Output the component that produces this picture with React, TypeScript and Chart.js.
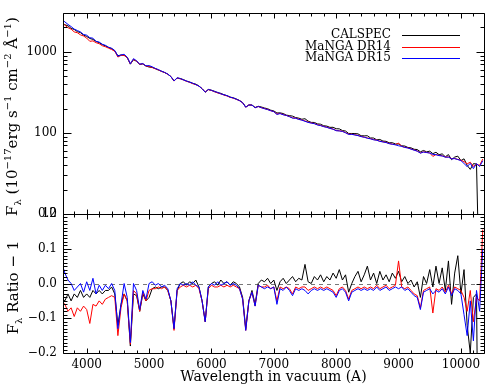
import React, { useEffect, useRef } from "react";
import { Chart, registerables } from "chart.js";

Chart.register(...registerables);

const FONT = "'DejaVu Serif', serif";

// Wavelength grid (Angstrom, vacuum)
const wavelength = [
  3600, 3650, 3700, 3750, 3800, 3850, 3900, 3950, 4000, 4050,
  4100, 4150, 4200, 4250, 4300, 4350, 4400, 4450, 4500, 4550,
  4600, 4650, 4700, 4750, 4800, 4850, 4900, 4950, 5000, 5050,
  5100, 5150, 5200, 5250, 5300, 5350, 5400, 5450, 5500, 5550,
  5600, 5650, 5700, 5750, 5800, 5850, 5900, 5950, 6000, 6050,
  6100, 6150, 6200, 6250, 6300, 6350, 6400, 6450, 6500, 6550,
  6600, 6650, 6700, 6750, 6800, 6850, 6900, 6950, 7000, 7050,
  7100, 7150, 7200, 7250, 7300, 7350, 7400, 7450, 7500, 7550,
  7600, 7650, 7700, 7750, 7800, 7850, 7900, 7950, 8000, 8050,
  8100, 8150, 8200, 8250, 8300, 8350, 8400, 8450, 8500, 8550,
  8600, 8650, 8700, 8750, 8800, 8850, 8900, 8950, 9000, 9050,
  9100, 9150, 9200, 9250, 9300, 9350, 9400, 9450, 9500, 9550,
  9600, 9650, 9700, 9750, 9800, 9850, 9900, 9950, 10000, 10050,
  10100, 10150, 10200, 10250, 10300, 10350,
];

// Continuum flux (10^-17 erg s^-1 cm^-2 A^-1)
const continuumFlux = [
  2400, 2276, 2160, 2052, 1949, 1853, 1763, 1679, 1599, 1525,
  1454, 1389, 1327, 1267, 1211, 1158, 1108, 1061, 1016, 974,
  934, 896, 860, 825, 793, 762, 732, 704, 677, 652,
  628, 605, 583, 561, 541, 522, 504, 486, 469, 453,
  438, 424, 409, 396, 383, 370, 358, 347, 336, 325,
  315, 305, 296, 287, 278, 270, 262, 254, 247, 240,
  233, 226, 219, 213, 207, 202, 196, 191, 185, 180,
  176, 171, 166, 162, 158, 154, 150, 146, 142, 139,
  135, 132, 128, 125, 122, 119, 116, 114, 111, 108,
  106, 103, 101, 98.5, 96.3, 94.1, 91.9, 89.8, 87.9, 85.9,
  84.0, 82.1, 80.3, 78.6, 76.9, 75.2, 73.6, 72.0, 70.5, 69.0,
  67.6, 66.2, 64.8, 63.5, 62.1, 60.9, 59.6, 58.4, 57.3, 56.1,
  55.0, 53.9, 52.8, 51.8, 50.8, 49.8, 48.9, 47.9, 47.0, 46.1,
  45.2, 44.4, 43.5, 42.7, 41.9, 41.2,
];

// Ratio - 1 (bottom panel)
const calspecRatio = [
  -0.04, -0.05, -0.03, -0.05, -0.03, -0.04, -0.02, -0.04, -0.03, -0.04,
  -0.02, -0.03, -0.02, -0.03, -0.02, -0.02, -0.01, -0.03, -0.12, -0.06,
  -0.03, -0.05, -0.18, -0.03, -0.035, -0.08, -0.03, -0.05, -0.04, -0.015,
  -0.01, -0.015, -0.01, -0.01, -0.02, -0.05, -0.13, -0.02, 0.0, 0.005,
  -0.005, 0.005, 0.0, 0.01, -0.01, -0.05, -0.11, -0.01, 0.0, 0.005,
  -0.005, 0.01, 0.0, 0.005, -0.005, 0.005, 0.0, -0.01, -0.04, -0.13,
  -0.05, -0.02, -0.06, 0.0, 0.01, 0.005, 0.015, 0.0, 0.01, -0.02,
  0.005, 0.015, 0.0, 0.01, 0.02, 0.005, 0.015, 0.01, 0.055, 0.005,
  0.0, 0.02, 0.01, 0.025, 0.005, 0.02, 0.01, 0.03, 0.015, 0.04,
  0.01, 0.025, -0.025, 0.0, 0.02, 0.035, 0.005, 0.025, 0.05, 0.01,
  0.03, 0.0, 0.035, 0.01, 0.025, 0.005, 0.03, 0.015, 0.035, 0.005,
  0.02, 0.0, 0.01, -0.01, 0.005, -0.04, 0.02, 0.0, 0.04, -0.01,
  0.05, 0.0, 0.045, -0.02, 0.065, -0.06, 0.03, 0.08, -0.03, 0.04,
  -0.12, -0.2, -0.04, -0.03, -0.98, null,
];

const dr14Ratio = [
  -0.05, -0.06, -0.08, -0.07, -0.095, -0.07, -0.08, -0.065, -0.075, -0.115,
  -0.06, -0.065, -0.05, -0.06, -0.045, -0.04, -0.035, -0.04, -0.15, -0.07,
  -0.03, -0.05, -0.175, -0.02, -0.03, -0.08, -0.025, -0.05, -0.02, -0.015,
  -0.015, -0.01, -0.015, -0.01, -0.02, -0.05, -0.135, -0.02, -0.01, -0.005,
  -0.01, -0.005, -0.01, -0.005, -0.015, -0.05, -0.11, -0.015, -0.005, -0.01,
  -0.01, -0.005, -0.01, -0.005, -0.01, -0.005, -0.01, -0.015, -0.045, -0.135,
  -0.05, -0.025, -0.065, -0.005, -0.01, -0.01, -0.005, -0.015, -0.01, -0.05,
  -0.01, -0.015, -0.01, -0.015, -0.03, -0.01, -0.015, -0.01, -0.01, -0.02,
  -0.015, -0.01, -0.015, -0.01, -0.015, -0.01, -0.015, -0.02, -0.035, -0.015,
  -0.01, -0.02, -0.045, -0.02, -0.015, -0.01, -0.015, -0.01, -0.015, -0.01,
  -0.015, -0.005, -0.015, -0.01, -0.005, -0.015, -0.01, -0.005, 0.065, -0.01,
  -0.015, -0.01, -0.02, -0.03, -0.035, -0.07, -0.02, -0.015, -0.01, -0.085,
  -0.015, -0.02, -0.01, -0.025, -0.005, -0.03, -0.01, -0.015, -0.02, -0.04,
  -0.08, -0.02, -0.11, -0.04, -0.05, 0.155,
];

const dr15Ratio = [
  0.06, 0.03, 0.01, 0.0, -0.02, -0.01, 0.0, -0.025, 0.005, -0.02,
  0.015, -0.03, -0.005, -0.02, -0.005, -0.015, 0.0, -0.02, -0.13, -0.06,
  0.0, -0.04, -0.17, 0.0, -0.02, -0.075, -0.02, -0.045, 0.0, 0.005,
  -0.005, 0.0, -0.01, -0.005, -0.015, -0.05, -0.13, -0.015, 0.0, -0.005,
  0.0, -0.005, 0.005, -0.005, -0.01, -0.05, -0.11, -0.01, 0.0, -0.005,
  0.005, -0.005, 0.0, 0.005, -0.005, 0.0, -0.005, -0.015, -0.045, -0.135,
  -0.05, -0.025, -0.065, -0.005, -0.01, -0.015, -0.01, -0.015, -0.01, -0.06,
  -0.015, -0.02, -0.01, -0.02, -0.035, -0.015, -0.02, -0.015, -0.02, -0.03,
  -0.02, -0.015, -0.02, -0.015, -0.02, -0.015, -0.02, -0.025, -0.04, -0.02,
  -0.015, -0.025, -0.05, -0.025, -0.02, -0.015, -0.02, -0.015, -0.02, -0.015,
  -0.02, -0.01, -0.02, -0.015, -0.01, -0.02, -0.015, -0.01, -0.015, -0.01,
  -0.02, -0.015, -0.025, -0.035, -0.04, -0.075, -0.025, -0.02, -0.015, -0.03,
  -0.02, -0.025, -0.015, -0.03, -0.01, -0.035, -0.015, -0.02, -0.03, -0.09,
  -0.15, -0.05, -0.165, -0.02, -0.08, 0.1,
];

const seriesNames = ["CALSPEC", "MaNGA DR14", "MaNGA DR15"];
const seriesColors = ["#000000", "#ff0000", "#0000ff"];
const fluxTicks = [10, 100, 1000];
const ratioTicks = [-0.2, -0.1, 0, 0.1, 0.2];
const wavelengthTicks = [4000, 5000, 6000, 7000, 8000, 9000, 10000];
const xTitle = "Wavelength in vacuum (A)";

type Part = { t: string; s?: "sub" | "sup" };
const fluxTitle: Part[] = [
  { t: "F" }, { t: "\u03bb", s: "sub" }, { t: " (10" }, { t: "\u221217", s: "sup" },
  { t: "erg s" }, { t: "\u22121", s: "sup" }, { t: " cm" }, { t: "\u22122", s: "sup" },
  { t: " \u00c5" }, { t: "\u22121", s: "sup" }, { t: ")" },
];
const ratioTitle: Part[] = [{ t: "F" }, { t: "\u03bb", s: "sub" }, { t: " Ratio \u2212 1" }];

const X_MIN = 3620;
const X_MAX = 10370;

const ratioSets = [calspecRatio, dr14Ratio, dr15Ratio];

function drawVerticalRich(ctx: CanvasRenderingContext2D, parts: Part[], xBase: number, yCenter: number, size: number) {
  const small = Math.round(size * 0.65);
  const widths = parts.map((p) => {
    ctx.font = `${p.s ? small : size}px ${FONT}`;
    return ctx.measureText(p.t).width;
  });
  const total = widths.reduce((a, b) => a + b, 0);
  ctx.save();
  ctx.translate(xBase, yCenter);
  ctx.rotate(-Math.PI / 2);
  ctx.fillStyle = "#000";
  ctx.textAlign = "left";
  ctx.textBaseline = "alphabetic";
  let x = -total / 2;
  parts.forEach((p, i) => {
    ctx.font = `${p.s ? small : size}px ${FONT}`;
    const dy = p.s === "sub" ? size * 0.25 : p.s === "sup" ? -size * 0.42 : 0;
    ctx.fillText(p.t, x, dy);
    x += widths[i];
  });
  ctx.restore();
}

function drawFrame(chart: any, yMajor: number[], yMinor: number[]) {
  const { ctx, chartArea: a } = chart;
  const xs = chart.scales.x;
  const ys = chart.scales.y;
  const L = Math.round(a.left) + 0.5;
  const R = Math.round(a.right) + 0.5;
  const T = Math.round(a.top) + 0.5;
  const B = Math.round(a.bottom) + 0.5;
  ctx.save();
  ctx.strokeStyle = "#000";
  ctx.lineWidth = 1;
  ctx.beginPath();
  ctx.rect(L, T, R - L, B - T);
  const xMinor: number[] = [];
  for (let w = 3800; w <= 10200; w += 200) if (w % 1000 !== 0) xMinor.push(w);
  const vx = (v: number, len: number) => {
    const px = Math.round(xs.getPixelForValue(v)) + 0.5;
    ctx.moveTo(px, B); ctx.lineTo(px, B - len);
    ctx.moveTo(px, T); ctx.lineTo(px, T + len);
  };
  const hy = (v: number, len: number) => {
    const py = Math.round(ys.getPixelForValue(v)) + 0.5;
    ctx.moveTo(L, py); ctx.lineTo(L + len, py);
    ctx.moveTo(R, py); ctx.lineTo(R - len, py);
  };
  wavelengthTicks.forEach((v) => vx(v, 5));
  xMinor.forEach((v) => vx(v, 3));
  yMajor.forEach((v) => hy(v, 8));
  yMinor.forEach((v) => hy(v, 4));
  ctx.stroke();
  ctx.restore();
}

const topPlugin = {
  id: "topFrame",
  afterDatasetsDraw(chart: any) {
    const minor: number[] = [];
    [10, 100, 1000].forEach((d) => {
      for (let m = 2; m <= 9; m++) if (m * d <= 3000) minor.push(m * d);
    });
    drawFrame(chart, fluxTicks, minor);
  },
  afterDraw(chart: any) {
    const { ctx, chartArea: a } = chart;
    drawVerticalRich(ctx, fluxTitle, 17, (a.top + a.bottom) / 2 + 3, 15);
    ctx.save();
    ctx.font = `12px ${FONT}`;
    ctx.textAlign = "right";
    ctx.textBaseline = "middle";
    seriesNames.forEach((name, k) => {
      const y = a.top + 22 + k * 11.5;
      ctx.fillStyle = "#000";
      ctx.fillText(name, a.right - 93, y);
      ctx.strokeStyle = seriesColors[k];
      ctx.lineWidth = 1;
      ctx.beginPath();
      ctx.moveTo(a.right - 82, Math.round(y) + 0.5);
      ctx.lineTo(a.right - 24, Math.round(y) + 0.5);
      ctx.stroke();
    });
    ctx.restore();
  },
};

const bottomPlugin = {
  id: "bottomFrame",
  beforeDatasetsDraw(chart: any) {
    const { ctx, chartArea: a } = chart;
    const y0 = Math.round(chart.scales.y.getPixelForValue(0)) + 0.5;
    ctx.save();
    ctx.strokeStyle = "#777";
    ctx.lineWidth = 1;
    ctx.setLineDash([4, 4]);
    ctx.beginPath();
    ctx.moveTo(a.left, y0);
    ctx.lineTo(a.right, y0);
    ctx.stroke();
    ctx.restore();
  },
  afterDatasetsDraw(chart: any) {
    const minor: number[] = [];
    for (let i = -20; i <= 20; i++) if (i % 10 !== 0) minor.push(i / 100);
    drawFrame(chart, ratioTicks, minor);
  },
  afterDraw(chart: any) {
    const { ctx, chartArea: a } = chart;
    drawVerticalRich(ctx, ratioTitle, 18, (a.top + a.bottom) / 2 + 4, 15);
  },
};

const tickFont = { family: FONT, size: 12 };

export default function App() {
  const topRef = useRef<HTMLCanvasElement>(null);
  const botRef = useRef<HTMLCanvasElement>(null);

  useEffect(() => {
    const fluxData = ratioSets.map((r) =>
      wavelength.map((w, i) => ({ x: w, y: r[i] == null ? null : continuumFlux[i] * (1 + (r[i] as number)) }))
    );
    const ratioData = ratioSets.map((r) => wavelength.map((w, i) => ({ x: w, y: r[i] })));

    // later series are drawn on top (DR15 over DR14 over CALSPEC)
    const mkDatasets = (data: any[]) =>
      seriesNames.map((name, k) => ({
        label: name,
        data: data[k],
        borderColor: seriesColors[k],
        backgroundColor: seriesColors[k],
        borderWidth: 1,
        pointRadius: 0,
        tension: 0,
        fill: false,
        spanGaps: false,
        order: seriesNames.length - k,
      }));

    const top = new Chart(topRef.current as HTMLCanvasElement, {
      type: "line",
      data: { datasets: mkDatasets(fluxData) as any },
      options: {
        responsive: false,
        animation: false,
        devicePixelRatio: 1,
        events: [],
        layout: { padding: { left: 0, right: 4, top: 7, bottom: 170 }, autoPadding: false } as any,
        plugins: { legend: { display: false }, tooltip: { enabled: false } },
        scales: {
          x: { type: "linear", min: X_MIN, max: X_MAX, display: false },
          y: {
            type: "logarithmic",
            min: 10,
            max: 3000,
            position: "left",
            grid: { display: false, drawTicks: false },
            border: { display: false },
            afterBuildTicks: (s: any) => {
              s.ticks = fluxTicks.map((v) => ({ value: v }));
            },
            afterFit: (s: any) => {
              s.width = 63;
            },
            ticks: {
              callback: (v: any) => String(v),
              font: tickFont,
              color: "#000",
              padding: 6,
            },
          },
        },
      } as any,
      plugins: [topPlugin],
    });

    const bot = new Chart(botRef.current as HTMLCanvasElement, {
      type: "line",
      data: { datasets: mkDatasets(ratioData) as any },
      options: {
        responsive: false,
        animation: false,
        devicePixelRatio: 1,
        events: [],
        layout: { padding: { left: 0, right: 4, top: 214, bottom: 0 }, autoPadding: false } as any,
        plugins: { legend: { display: false }, tooltip: { enabled: false } },
        scales: {
          x: {
            type: "linear",
            min: X_MIN,
            max: X_MAX,
            position: "bottom",
            grid: { display: false, drawTicks: false },
            border: { display: false },
            afterBuildTicks: (s: any) => {
              s.ticks = wavelengthTicks.map((v) => ({ value: v }));
            },
            afterFit: (s: any) => {
              s.height = 31;
            },
            ticks: {
              callback: (v: any) => String(v),
              font: tickFont,
              color: "#000",
              padding: 5,
              maxRotation: 0,
              autoSkip: false,
            },
            title: {
              display: true,
              text: xTitle,
              font: { family: FONT, size: 14, lineHeight: 1 },
              color: "#000",
              padding: 0,
            },
          },
          y: {
            type: "linear",
            min: -0.2,
            max: 0.2,
            position: "left",
            grid: { display: false, drawTicks: false },
            border: { display: false },
            afterBuildTicks: (s: any) => {
              s.ticks = ratioTicks.map((v) => ({ value: v }));
            },
            afterFit: (s: any) => {
              s.width = 63;
            },
            ticks: {
              callback: (v: any) => (v < -1e-9 ? "\u2212" : "") + Math.abs(v).toFixed(1),
              font: tickFont,
              color: "#000",
              padding: 6,
            },
          },
        },
      } as any,
      plugins: [bottomPlugin],
    });

    return () => {
      top.destroy();
      bot.destroy();
    };
  }, []);

  return (
    <div style={{ position: "absolute", left: 0, top: 0, width: 488, height: 384, background: "#fff" }}>
      <canvas ref={botRef} width={488} height={384} style={{ position: "absolute", left: 0, top: 0, width: 488, height: 384 }} />
      <canvas ref={topRef} width={488} height={384} style={{ position: "absolute", left: 0, top: 0, width: 488, height: 384 }} />
    </div>
  );
}
